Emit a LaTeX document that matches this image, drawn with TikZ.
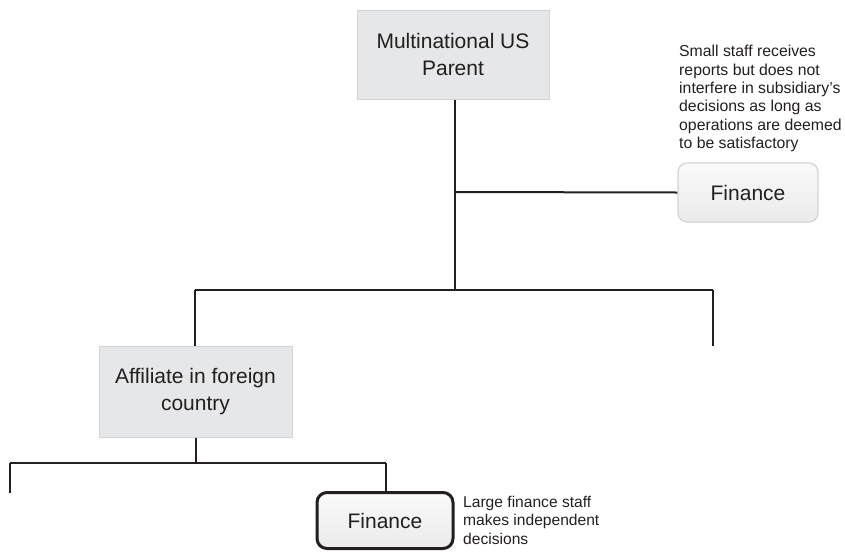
\documentclass[tikz,border=0pt]{standalone}
\usepackage{fontspec}
\setmainfont{Liberation Sans}
\definecolor{boxfill}{HTML}{E6E7E8}
\definecolor{boxline}{HTML}{D2D3D5}
\definecolor{ink}{HTML}{231F20}
\begin{document}
\begin{tikzpicture}[x=1pt,y=-1pt,
  conn/.style={draw=ink,line width=2pt},
  orgbox/.style={draw=boxline,fill=boxfill,line width=1pt,align=center,inner sep=0pt,
    font=\fontsize{21}{27}\selectfont,text=ink},
  finsoft/.style={draw=boxline,line width=1.2pt,rounded corners=9pt,top color=gray!4,bottom color=gray!16,
    inner sep=0pt,font=\fontsize{21}{27}\selectfont,text=ink},
  finhard/.style={draw=ink,line width=3pt,rounded corners=10pt,top color=gray!4,bottom color=gray!16,
    inner sep=0pt,font=\fontsize{21}{27}\selectfont,text=ink},
  note/.style={align=left,inner sep=0pt,text=ink}]
\useasboundingbox (0,0) rectangle (845,552);
\node[orgbox,minimum width=192pt,minimum height=89pt] (parent) at (453,54.5) {Multinational US\\Parent};
\node[finsoft,minimum width=140pt,minimum height=59pt] (fin1) at (748,192.5) {Finance};
\node[orgbox,minimum width=193pt,minimum height=91pt] (aff) at (195.5,391.5) {Affiliate in foreign\\country};
\node[finhard,minimum width=136pt,minimum height=56pt] (fin2) at (385,520.5) {Finance};
\node[note,anchor=north west,font=\fontsize{15.8}{18.4}\selectfont] (n1) at (679,45)
  {Small staff receives\\reports but does not\\interfere in subsidiary’s\\decisions as long as\\operations are deemed\\to be satisfactory};
\node[note,anchor=north west,font=\fontsize{15.6}{18.8}\selectfont] (n2) at (463,495.5)
  {Large finance staff\\makes independent\\decisions};
\coordinate (ptop) at (455,99.5);
\coordinate (pj) at (455,192);
\coordinate (hb) at (455,290);
\coordinate (hl) at (195,290);
\coordinate (hr) at (713,290);
\coordinate (hre) at (713,346);
\coordinate (al) at (196,463);
\coordinate (ll) at (10,463);
\coordinate (lle) at (10,493);
\coordinate (lr) at (386,463);
\draw[conn] (ptop) -- (hb);
\draw[conn] (pj) -- (fin1.west);
\draw[conn] (hl) -- (hr);
\draw[conn] (hl) -- (hl |- aff.north);
\draw[conn] (hr) -- (hre);
\draw[conn] (aff.south -| al) -- (al);
\draw[conn] (ll) -- (lr);
\draw[conn] (ll) -- (lle);
\draw[conn] (lr) -- (lr |- fin2.north);
\end{tikzpicture}
\end{document}
